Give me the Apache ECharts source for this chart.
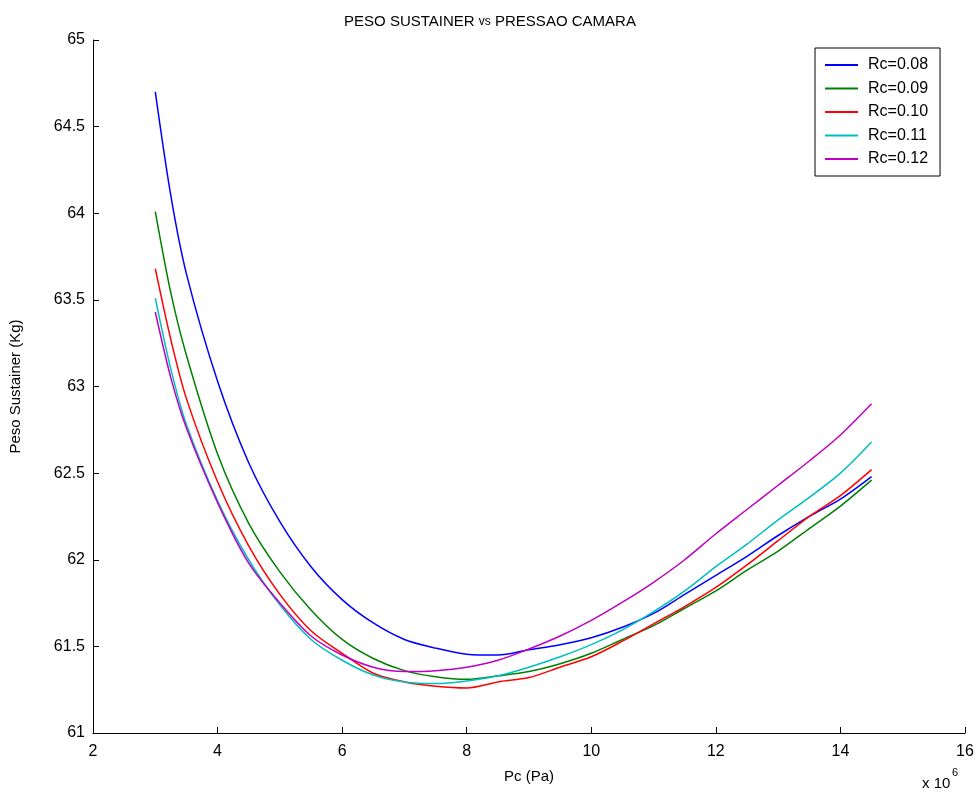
<!DOCTYPE html>
<html>
<head>
<meta charset="utf-8">
<script src="https://cdn.jsdelivr.net/npm/echarts@6/dist/echarts.min.js"></script>
<style>
  html, body { margin: 0; padding: 0; background: #ffffff; }
  #chart { width: 980px; height: 796px; }
</style>
</head>
<body>
<div id="chart"></div>
<script>
// Pc in units of 10^6 Pa
const pressure = [3, 3.25, 3.5, 4, 4.5, 5, 5.5, 6, 6.5, 7, 7.5, 8, 8.5, 9, 9.5, 10, 10.5, 11, 11.5, 12, 12.5, 13, 13.5, 14, 14.5];
const rc008 = [64.70, 64.10, 63.65, 63.03, 62.56, 62.22, 61.96, 61.77, 61.635, 61.54, 61.49, 61.455, 61.45, 61.48, 61.51, 61.55, 61.61, 61.69, 61.80, 61.91, 62.02, 62.14, 62.25, 62.35, 62.48];
const rc009 = [64.01, 63.54, 63.18, 62.61, 62.21, 61.93, 61.71, 61.54, 61.43, 61.36, 61.325, 61.31, 61.33, 61.355, 61.40, 61.46, 61.54, 61.62, 61.72, 61.82, 61.94, 62.05, 62.18, 62.31, 62.46];
const rc010 = [63.68, 63.27, 62.93, 62.45, 62.08, 61.80, 61.59, 61.46, 61.345, 61.295, 61.27, 61.26, 61.295, 61.32, 61.38, 61.44, 61.53, 61.63, 61.73, 61.84, 61.97, 62.11, 62.25, 62.37, 62.52];
const rc011 = [63.51, 63.10, 62.78, 62.34, 62.00, 61.74, 61.54, 61.42, 61.335, 61.295, 61.285, 61.30, 61.33, 61.38, 61.44, 61.51, 61.595, 61.70, 61.82, 61.96, 62.09, 62.23, 62.36, 62.50, 62.68];
const rc012 = [63.43, 63.05, 62.76, 62.33, 61.98, 61.75, 61.56, 61.45, 61.38, 61.355, 61.36, 61.38, 61.42, 61.485, 61.56, 61.65, 61.755, 61.87, 62.00, 62.15, 62.29, 62.43, 62.57, 62.72, 62.90];
const seriesNames = ['Rc=0.08', 'Rc=0.09', 'Rc=0.10', 'Rc=0.11', 'Rc=0.12'];
const seriesColors = ['#0000ff', '#008000', '#ff0000', '#00bfbf', '#bf00bf'];
const seriesValues = [rc008, rc009, rc010, rc011, rc012];

const FONT = 'Liberation Sans';
const chart = echarts.init(document.getElementById('chart'));

const series = seriesNames.map((name, i) => ({
  name: name,
  type: 'line',
  data: pressure.map((x, j) => [x, seriesValues[i][j]]),
  showSymbol: false,
  smooth: 0.3,
  lineStyle: { color: seriesColors[i], width: 1.5 },
  itemStyle: { color: seriesColors[i] },
  animation: false
}));

chart.setOption({
  backgroundColor: '#ffffff',
  animation: false,
  title: {
    text: 'PESO SUSTAINER {s|vs} PRESSAO CAMARA',
    left: 'center',
    top: 9,
    textStyle: {
      fontFamily: FONT, fontSize: 15, fontWeight: 'normal', color: '#000',
      rich: { s: { fontFamily: FONT, fontSize: 12, color: '#000' } }
    }
  },
  legend: {
    orient: 'vertical',
    left: 815,
    top: 48,
    data: seriesNames,
    icon: 'rect',
    itemWidth: 33,
    itemHeight: 2,
    itemGap: 7.5,
    padding: [9, 12, 9, 10],
    borderColor: '#000',
    borderWidth: 1,
    backgroundColor: '#fff',
    textStyle: { fontFamily: FONT, fontSize: 16, color: '#000', padding: [0, 0, 0, 5], width: 73 }
  },
  grid: { left: 93, right: 15, top: 40, bottom: 63, containLabel: false },
  xAxis: {
    type: 'value',
    min: 2, max: 16, interval: 2,
    name: 'Pc (Pa)',
    nameLocation: 'middle',
    nameGap: 36,
    nameTextStyle: { fontFamily: FONT, fontSize: 15, color: '#000' },
    axisLine: { show: true, onZero: false, lineStyle: { color: '#000', width: 1 } },
    axisTick: { show: true, inside: true, length: 6, lineStyle: { color: '#000' } },
    axisLabel: { fontFamily: FONT, fontSize: 16, color: '#000', margin: 11 },
    splitLine: { show: false }
  },
  yAxis: {
    type: 'value',
    min: 61, max: 65, interval: 0.5,
    name: 'Peso Sustainer (Kg)',
    nameLocation: 'middle',
    nameGap: 70,
    nameRotate: 90,
    nameTextStyle: { fontFamily: FONT, fontSize: 15, color: '#000' },
    axisLine: { show: true, lineStyle: { color: '#000', width: 1 } },
    axisTick: { show: true, inside: true, length: 6, lineStyle: { color: '#000' } },
    axisLabel: { fontFamily: FONT, fontSize: 16, color: '#000', margin: 8 },
    splitLine: { show: false }
  },
  graphic: [
    {
      type: 'text', left: 922, top: 776,
      style: { text: 'x 10', font: '15px "Liberation Sans"', fill: '#000' }
    },
    {
      type: 'text', left: 952, top: 767,
      style: { text: '6', font: '11px "Liberation Sans"', fill: '#000' }
    }
  ],
  series: series
});
</script>
</body>
</html>
